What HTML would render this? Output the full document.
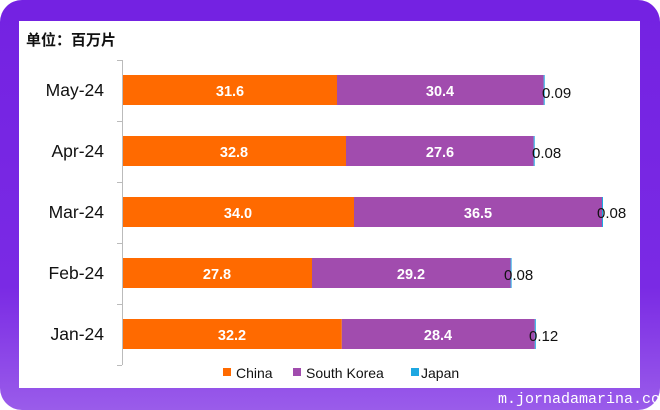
<!DOCTYPE html>
<html><head><meta charset="utf-8"><style>
body{margin:0;width:660px;height:410px;overflow:hidden;background:#fff;}
.frame{position:absolute;left:0;top:0;width:660px;height:410px;border-radius:22px;background:linear-gradient(180deg,#7422e2 0%,#7a2ae4 70%,#9a5cea 100%);}
.panel{position:absolute;left:19px;top:21px;width:621px;height:367px;background:#fff;}
svg{position:absolute;left:0;top:0;}
text{font-family:"Liberation Sans","Noto Sans CJK SC",sans-serif;}
</style></head><body>
<div class="frame"></div><div class="panel"></div>
<svg width="660" height="410" xmlns="http://www.w3.org/2000/svg">
<text x="26" y="45" font-size="15" font-weight="bold" fill="#111">单位：百万片</text>
<line x1="122.5" y1="60" x2="122.5" y2="365" stroke="#bbb"/>
<g stroke="#bbb"><line x1="117" y1="60.5" x2="122" y2="60.5"/><line x1="117" y1="121.5" x2="122" y2="121.5"/><line x1="117" y1="182.5" x2="122" y2="182.5"/><line x1="117" y1="243.5" x2="122" y2="243.5"/><line x1="117" y1="304.5" x2="122" y2="304.5"/><line x1="117" y1="365.5" x2="122" y2="365.5"/></g>
<g font-size="17.5" fill="#111" text-anchor="end">
<text x="104" y="96">May-24</text><text x="104" y="157">Apr-24</text><text x="104" y="218">Mar-24</text><text x="104" y="279">Feb-24</text><text x="104" y="340">Jan-24</text></g>
<g>
<rect x="123" y="75" width="214" height="30" fill="#ff6a00"/><rect x="337" y="75" width="206.7" height="30" fill="#a14cae"/><rect x="543.7" y="75" width="1" height="30" fill="#1ea7e1"/>
<rect x="123" y="136" width="223" height="30" fill="#ff6a00"/><rect x="346" y="136" width="187.7" height="30" fill="#a14cae"/><rect x="533.7" y="136" width="1" height="30" fill="#1ea7e1"/>
<rect x="123" y="197" width="231" height="30" fill="#ff6a00"/><rect x="354" y="197" width="248" height="30" fill="#a14cae"/><rect x="602" y="197" width="1" height="30" fill="#1ea7e1"/>
<rect x="123" y="258" width="189" height="30" fill="#ff6a00"/><rect x="312" y="258" width="198.6" height="30" fill="#a14cae"/><rect x="510.6" y="258" width="1" height="30" fill="#1ea7e1"/>
<rect x="123" y="319" width="218.8" height="30" fill="#ff6a00"/><rect x="341.8" y="319" width="193" height="30" fill="#a14cae"/><rect x="534.8" y="319" width="1" height="30" fill="#1ea7e1"/>
</g>
<g font-size="14.5" font-weight="bold" fill="#fff" text-anchor="middle">
<text x="230" y="96">31.6</text><text x="440" y="96">30.4</text>
<text x="234" y="157">32.8</text><text x="440" y="157">27.6</text>
<text x="238" y="218">34.0</text><text x="478" y="218">36.5</text>
<text x="217" y="279">27.8</text><text x="411" y="279">29.2</text>
<text x="232" y="340">32.2</text><text x="438" y="340">28.4</text></g>
<g font-size="15" fill="#111">
<text x="542" y="98">0.09</text><text x="532" y="158">0.08</text><text x="597" y="218">0.08</text><text x="504" y="280">0.08</text><text x="529" y="341">0.12</text></g>
<rect x="223" y="368" width="8" height="8" fill="#ff6a00"/><text x="236" y="378" font-size="14" fill="#111">China</text>
<rect x="293" y="368" width="8" height="8" fill="#a14cae"/><text x="306" y="378" font-size="14" fill="#111">South Korea</text>
<rect x="411" y="368" width="8" height="8" fill="#1ea7e1"/><text x="421" y="378" font-size="14" fill="#111">Japan</text>
<text x="498" y="403" font-size="15" fill="#fff" style="font-family:'Liberation Mono',monospace">m.jornadamarina.co</text>
</svg>
</body></html>
